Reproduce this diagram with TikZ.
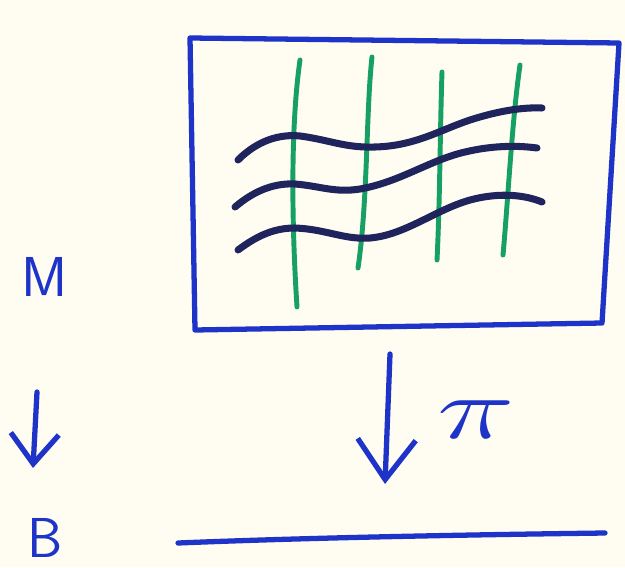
\documentclass[tikz,border=0pt]{standalone}
\usetikzlibrary{arrows.meta}
\definecolor{paper}{RGB}{255,253,242}
\definecolor{ink}{RGB}{30,52,200}
\definecolor{fibre}{RGB}{22,160,100}
\definecolor{navy}{RGB}{32,36,92}
\tikzset{
  pen/.style={draw=ink,line width=1.5pt,line cap=round,line join=round},
  fibreline/.style={draw=fibre,line width=1.4pt,line cap=round},
  sectionline/.style={draw=navy,line width=2pt,line cap=round},
  bigarrow/.style={pen,-{Straight Barb[length=4.0mm,width=5.8mm,line width=1.5pt]}},
  smallarrow/.style={pen,-{Straight Barb[length=3.0mm,width=4.8mm,line width=1.5pt]}},
  letter/.style={text=ink,font=\sffamily\fontsize{16}{18}\selectfont,inner sep=0pt},
}
\begin{document}
\begin{tikzpicture}[x={(0.01cm,0)},y={(0,-0.01cm)}]
\fill[paper] (0,0) rectangle (625,567);
\useasboundingbox (0,0) rectangle (625,567);
% total space M
\draw[pen] (190,38) -- (619,43) -- (602,323) -- (195,330) -- cycle;
% fibres (green)
\draw[fibreline] (300,60) .. controls (290,130) and (292,230) .. (297,307);
\draw[fibreline] (372,57) .. controls (366,110) and (368,200) .. (358,268);
\draw[fibreline] (442,72) .. controls (440,130) and (440,200) .. (437,260);
\draw[fibreline] (520,65) .. controls (512,120) and (508,200) .. (503,255);
% sections (navy wavy)
\draw[sectionline] (238,160) .. controls (258,140) and (280,134) .. (300,136) .. controls (330,140) and (345,148) .. (375,147) .. controls (415,146) and (440,130) .. (470,120) .. controls (495,112) and (520,107) .. (542,108);
\draw[sectionline] (235,207) .. controls (255,190) and (275,183) .. (295,184) .. controls (320,186) and (335,193) .. (360,189) .. controls (400,182) and (430,160) .. (465,152) .. controls (490,146) and (515,145) .. (537,148);
\draw[sectionline] (238,250) .. controls (258,235) and (275,228) .. (295,228) .. controls (325,229) and (345,240) .. (370,238) .. controls (405,235) and (435,210) .. (470,200) .. controls (500,192) and (525,195) .. (542,202);
% labels and arrows
\node[letter] (M) at (45,277) {M};
\node[letter] (B) at (45,538) {B};
\coordinate (la) at (37,392);
\coordinate (lb) at (33,468);
\draw[smallarrow] (la) -- (lb);
\coordinate (ma) at (390,354);
\coordinate (mb) at (385,484);
\draw[bigarrow] (ma) -- (mb);
\node[text=ink,font=\fontsize{30}{30}\selectfont,inner sep=0pt,xscale=1.5] (pi) at (476,420) {$\pi$};
% base B
\coordinate (b1) at (178,543);
\coordinate (b2) at (605,533);
\draw[pen] (b1) .. controls (300,538) and (450,535) .. (b2);
\end{tikzpicture}
\end{document}
